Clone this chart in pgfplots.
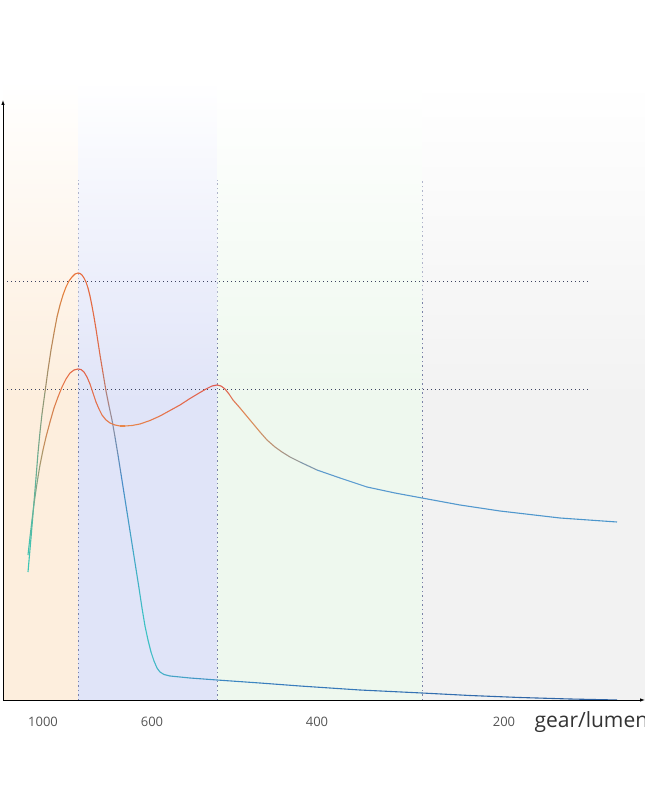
\documentclass[border=0pt]{standalone}
\usepackage{pgfplots}
\pgfplotsset{compat=1.18}
\usepackage{fontspec}
\setmainfont{Open Sans}
\usetikzlibrary{arrows.meta}
\definecolor{bandO}{HTML}{FDEEDD}
\definecolor{bandB}{HTML}{E0E4F8}
\definecolor{bandG}{HTML}{EEF8EE}
\definecolor{bandY}{HTML}{F2F2F2}
\definecolor{dotH}{HTML}{3C4260}
\definecolor{dotV}{HTML}{7A82A8}
\definecolor{tickc}{HTML}{555555}
\pgfplotsset{
  colormap={tallmap}{
    rgb255(28pt)=(56,200,184)
    rgb255(48pt)=(170,140,100)
    rgb255(65pt)=(232,128,58)
    rgb255(80pt)=(232,106,58)
    rgb255(100pt)=(224,106,72)
    rgb255(112pt)=(144,144,160)
    rgb255(122pt)=(74,140,200)
    rgb255(145pt)=(60,196,196)
    rgb255(170pt)=(72,168,200)
    rgb255(250pt)=(58,128,192)
    rgb255(617pt)=(44,95,160)
  },
  colormap={shortmap}{
    rgb255(28pt)=(60,196,180)
    rgb255(45pt)=(200,140,90)
    rgb255(62pt)=(232,120,70)
    rgb255(79pt)=(226,96,74)
    rgb255(125pt)=(232,136,74)
    rgb255(217pt)=(224,90,80)
    rgb255(250pt)=(224,144,90)
    rgb255(290pt)=(160,150,140)
    rgb255(330pt)=(91,155,208)
    rgb255(617pt)=(74,149,204)
  }
}
\begin{document}
\begin{tikzpicture}
\begin{axis}[
  x=1pt, y=1pt,
  xmin=3, xmax=645, ymin=0, ymax=600,
  clip=false,
  axis lines=left,
  axis line style={line width=0.8pt, black, -{Latex[length=5pt,width=3.5pt]}},
  xtick={43,152,317,504},
  xticklabels={1000,600,400,200},
  ytick=\empty,
  major tick length=0pt,
  xticklabel style={anchor=center, yshift=-22pt, font=\fontsize{13}{15}\selectfont, text=tickc},
  axis on top,
]
% background bands
\fill[bandO] (axis cs:3,0) rectangle (axis cs:78,300);
\shade[top color=white, bottom color=bandO] (axis cs:3,299.5) rectangle (axis cs:78,620);
\fill[bandB] (axis cs:78,0) rectangle (axis cs:217,300);
\shade[top color=white, bottom color=bandB] (axis cs:78,299.5) rectangle (axis cs:217,620);
\fill[bandG] (axis cs:217,0) rectangle (axis cs:422,300);
\shade[top color=white, bottom color=bandG] (axis cs:217,299.5) rectangle (axis cs:422,620);
\fill[bandY] (axis cs:422,0) rectangle (axis cs:645,300);
\shade[top color=white, bottom color=bandY] (axis cs:422,299.5) rectangle (axis cs:645,620);
% dotted guides
\draw[dotH, line width=0.7pt, dash pattern=on 1pt off 3pt] (axis cs:3,419) -- (axis cs:590,419);
\draw[dotH, line width=0.7pt, dash pattern=on 1pt off 3pt] (axis cs:3,311) -- (axis cs:590,311);
\draw[dotV!60, line width=0.6pt, dash pattern=on 1.5pt off 3pt] (axis cs:78,380) -- (axis cs:78,520);
\draw[dotV!60, line width=0.6pt, dash pattern=on 1.5pt off 3pt] (axis cs:217,380) -- (axis cs:217,520);
\draw[dotV!60, line width=0.6pt, dash pattern=on 1.5pt off 3pt] (axis cs:422,400) -- (axis cs:422,520);
\draw[dotV, line width=0.6pt, dash pattern=on 1.5pt off 3pt] (axis cs:78,0) -- (axis cs:78,380);
\draw[dotV, line width=0.6pt, dash pattern=on 1.5pt off 3pt] (axis cs:217,0) -- (axis cs:217,380);
\draw[dotV, line width=0.6pt, dash pattern=on 1.5pt off 3pt] (axis cs:422,0) -- (axis cs:422,400);
% tall curve
\addplot[mesh, point meta=x, colormap name=tallmap, line width=1.1pt] coordinates {
(28,128) (29.5,145) (31,162) (32.5,180) (34,198) (36,222) (38,247) (40,268) (42,286) (45,308)
(48,330) (51,350) (54,367) (57,383) (60,395) (63,405) (66,413) (69,419) (72,423) (75,426)
(78,427) (80,426.5) (82,425) (84,422) (86,418) (88,412) (90,404) (92,394) (94,383) (96,371)
(98,358) (100,345) (103,327) (106,309) (109,294) (112,280) (115,263) (118,245) (121,226) (124,207)
(127,188) (130,169) (133,150) (136,131) (139,112) (142,92) (145,74) (148,60) (151,48) (154,39)
(157,32) (160,28) (164,25.5) (170,24) (190,22) (217,20) (260,17) (300,14) (360,10) (422,7)
(470,4.5) (520,2.5) (570,1) (617,0)
};
% short curve
\addplot[mesh, point meta=x, colormap name=shortmap, line width=1.1pt] coordinates {
(28,145) (30,163) (32,180) (34,196) (36,210) (38,223) (40,235) (43,250) (46,263) (50,278)
(54,292) (58,303) (62,313) (66,321) (70,327) (74,330) (78,331) (81,330.5) (84,328) (87,323)
(90,316) (93,307) (96,298) (99,291) (102,285) (106,280) (110,277) (115,275) (120,274) (125,274)
(132,274.5) (140,276) (150,279.5) (160,284) (170,289.5) (180,295) (190,301.5) (200,307.5) (206,311) (212,314)
(217,315) (221,314) (225,311) (229,306) (233,300) (240,292) (250,280) (260,268) (267,260) (275,253)
(282,248) (290,243) (300,238) (317,230) (340,222) (367,213) (395,207) (422,202) (460,195) (500,189)
(560,182) (617,178)
};
\node[anchor=west, font=\fontsize{21}{24}\selectfont, text=black!80] at (axis cs:531,-22) {gear/lumen};
\coordinate (bbl) at (axis cs:0,-107);
\coordinate (btr) at (axis cs:645,700);
\end{axis}
\pgfresetboundingbox
\path[use as bounding box] (bbl) rectangle (btr);
\end{tikzpicture}
\end{document}
